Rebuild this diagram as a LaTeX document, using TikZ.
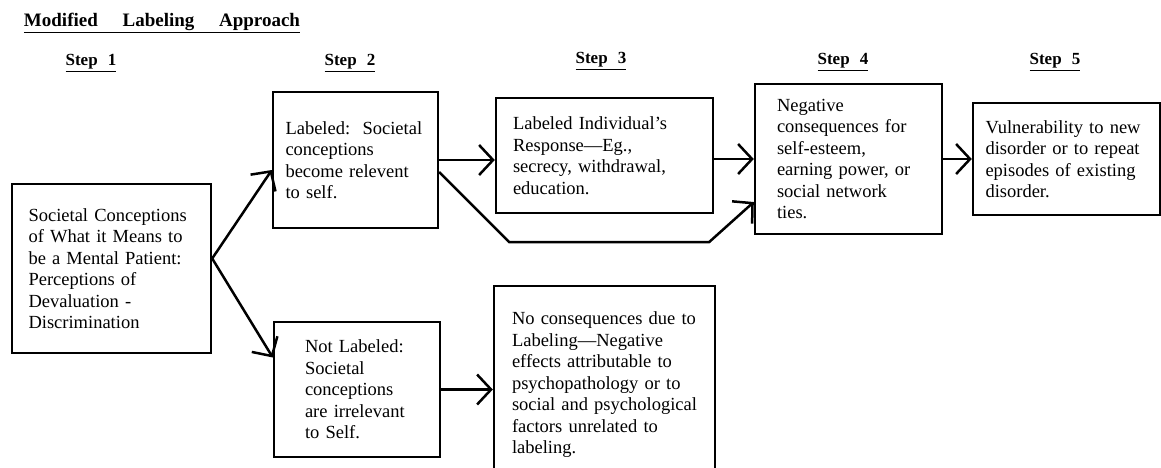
\documentclass[tikz,border=0pt]{standalone}
\usepackage{fontspec}
\setmainfont{Liberation Serif}
\usetikzlibrary{arrows.meta,calc}
\hyphenpenalty=10000
\exhyphenpenalty=10000
\begin{document}
\begin{tikzpicture}[x=1pt,y=-1pt,
  box/.style={draw,line width=2.4pt,inner sep=0pt,align=left,font=\fontsize{18.5}{21.5}\selectfont},
  arr/.style={line width=2.5pt,-{Straight Barb[length=14pt,width=30pt,line width=2.5pt]}},
  steplbl/.style={font=\fontsize{17}{20}\selectfont\bfseries},
  titlelbl/.style={font=\fontsize{19}{22}\selectfont\bfseries}]
\useasboundingbox (0,0) rectangle (1161,467);

\node[titlelbl] (title) at (162,23) {\underline{Modified\hspace{1.3em}Labeling\hspace{1.3em}Approach}};
\node[steplbl] (s1) at (91,63) {\underline{Step\hspace{0.6em}1}};
\node[steplbl] (s2) at (350,63) {\underline{Step\hspace{0.6em}2}};
\node[steplbl] (s3) at (601,61) {\underline{Step\hspace{0.6em}3}};
\node[steplbl] (s4) at (843,62) {\underline{Step\hspace{0.6em}4}};
\node[steplbl] (s5) at (1055,62) {\underline{Step\hspace{0.6em}5}};

\node[box,minimum width=199pt,minimum height=169pt,text width=166pt] (b1) at (111.5,268.5)
  {Societal Conceptions\\ of What it Means to\\ be a Mental Patient:\\ Perceptions of\\ Devaluation -\\ Discrimination};
\node[box,minimum width=165pt,minimum height=136pt,text width=140pt] (b2) at (355.5,160)
  {\mbox{Labeled:\ \ Societal}\\ conceptions\\ become relevent\\ to self.};
\node[box,minimum width=217pt,minimum height=115pt,text width=183pt] (b3) at (604.5,155.5)
  {Labeled Individual's\\ Response---Eg.,\\ secrecy, withdrawal,\\ education.};
\node[box,minimum width=187pt,minimum height=150pt,text width=143pt] (b4) at (848.5,159)
  {Negative\\ consequences for\\ self-esteem,\\ earning power, or\\ social network\\ ties.};
\node[box,minimum width=187pt,minimum height=112pt,text width=162pt] (b5) at (1066.5,159)
  {Vulnerability to new\\ disorder or to repeat\\ episodes of existing\\ disorder.};
\node[box,minimum width=166pt,minimum height=135pt,text width=104pt] (b6) at (357,389.5)
  {Not Labeled:\\ Societal\\ conceptions\\ are irrelevant\\ to Self.};
\node[box,minimum width=221pt,minimum height=251pt,text width=185pt] (b7) at (604.5,411.5)
  {No consequences due to\\ Labeling---Negative\\ effects attributable to\\ psychopathology or to\\ social and psychological\\ factors unrelated to\\ labeling.\\[36pt]\mbox{}};

\draw[arr] ([yshift=10pt]b1.east) -- ([yshift=-10pt]b2.west);
\draw[arr] ([yshift=10pt]b1.east) -- ([yshift=32pt]b6.west);
\draw[arr] (b2.east) -- (b2.east -| b3.west);
\draw[arr] ([yshift=-12pt]b2.east) -- ++(70,70) -- ++(200,0) -- ([yshift=-43pt]b4.west);
\draw[arr] (b3.east |- b4.west) -- (b4.west);
\draw[arr] (b4.east) -- (b5.west);
\draw[arr] (b6.east) -- (b6.east -| b7.west);
\end{tikzpicture}
\end{document}
